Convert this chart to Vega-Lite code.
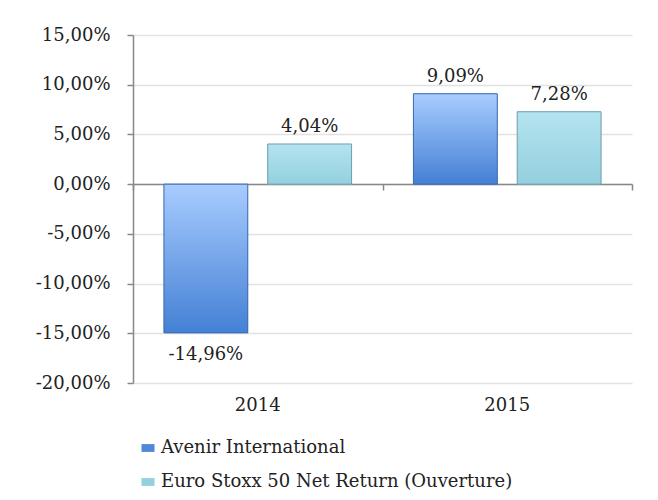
{
  "$schema": "https://vega.github.io/schema/vega-lite/v6.json",
  "autosize": {"type": "none"},
  "padding": {"left": 133, "top": 35, "right": 26, "bottom": 117},
  "width": 499,
  "height": 348,
  "background": "white",
  "config": {
    "font": "DejaVu Serif",
    "view": {"stroke": null},
    "locale": {"number": {"decimal": ",", "thousands": " ", "grouping": [3], "currency": ["", " €"], "minus": "-"}},
    "axis": {"labelFont": "DejaVu Serif", "labelColor": "#222", "labelFontSize": 18, "titleFont": "DejaVu Serif"},
    "legend": {"labelFont": "DejaVu Serif"}
  },
  "data": {
    "values": [
      {"year": "2014", "series": "Avenir International", "value": -0.1496},
      {"year": "2014", "series": "Euro Stoxx 50 Net Return (Ouverture)", "value": 0.0404},
      {"year": "2015", "series": "Avenir International", "value": 0.0909},
      {"year": "2015", "series": "Euro Stoxx 50 Net Return (Ouverture)", "value": 0.0728}
    ]
  },
  "encoding": {
    "x": {"field": "year", "type": "nominal", "scale": {"paddingInner": 0, "paddingOuter": 0}},
    "xOffset": {"field": "series", "type": "nominal", "scale": {"paddingInner": 0.192, "paddingOuter": 0.298, "domain": ["Avenir International", "Euro Stoxx 50 Net Return (Ouverture)"]}},
    "y": {"field": "value", "type": "quantitative", "scale": {"domain": [-0.2, 0.15], "nice": false, "zero": false}}
  },
  "layer": [
    {
      "mark": {"type": "bar"},
      "encoding": {
        "x": {"field": "year", "type": "nominal", "title": null,
          "axis": {"orient": "bottom", "domain": false, "ticks": false, "labelAngle": 0, "labelPadding": 13, "labelFontSize": 18, "grid": false}},
        "y": {"field": "value", "type": "quantitative", "title": null,
          "axis": {"values": [-0.2, -0.15, -0.1, -0.05, 0, 0.05, 0.1, 0.15], "format": ".2%", "domainColor": "#888", "domainWidth": 1.5, "tickColor": "#888", "tickSize": 6, "tickWidth": 1.5, "labelPadding": 17, "gridColor": "#e2e2e2", "gridWidth": 1.5}},
        "color": {"field": "series", "type": "nominal", "title": null,
          "scale": {"domain": ["Avenir International", "Euro Stoxx 50 Net Return (Ouverture)"], "range": ["#4f88d6", "#93cfdd"]},
          "legend": {"orient": "none", "legendX": 6, "legendY": 404, "direction": "vertical", "labelFontSize": 18, "labelLimit": 600, "labelColor": "#222", "rowPadding": 16, "labelOffset": 4, "symbolType": "M-1,-0.6H1V0.6H-1Z", "symbolSize": 169, "symbolStrokeWidth": 0}}
      }
    },
    {
      "transform": [{"filter": "datum.series === 'Avenir International'"}],
      "mark": {"type": "bar", "stroke": "#3a6bb0", "strokeWidth": 1,
        "fill": {"gradient": "linear", "x1": 0, "y1": 0, "x2": 0, "y2": 1, "stops": [{"offset": 0, "color": "#a8ccff"}, {"offset": 1, "color": "#4480d4"}]}},
      "encoding": {"x": {"field": "year", "type": "nominal", "axis": null}}
    },
    {
      "transform": [{"filter": "datum.series !== 'Avenir International'"}],
      "mark": {"type": "bar", "stroke": "#6f9fae", "strokeWidth": 1,
        "fill": {"gradient": "linear", "x1": 0, "y1": 0, "x2": 0, "y2": 1, "stops": [{"offset": 0, "color": "#b4e3ef"}, {"offset": 1, "color": "#94d0df"}]}},
      "encoding": {"x": {"field": "year", "type": "nominal", "axis": null}}
    },
    {
      "transform": [{"filter": "datum.value >= 0"}],
      "mark": {"type": "text", "baseline": "alphabetic", "dy": -12, "fontSize": 18, "color": "#222"},
      "encoding": {
        "x": {"field": "year", "type": "nominal", "title": null,
          "axis": {"orient": "bottom", "offset": -199, "labels": false, "domain": true, "domainColor": "#888", "domainWidth": 1.5, "ticks": true, "tickBand": "extent", "tickColor": "#888", "tickWidth": 1.5, "tickSize": 6, "grid": false}},
        "text": {"field": "value", "type": "quantitative", "format": ".2%"}
      }
    },
    {
      "transform": [{"filter": "datum.value < 0"}],
      "mark": {"type": "text", "baseline": "top", "dy": 13, "fontSize": 18, "color": "#222"},
      "encoding": {
        "x": {"field": "year", "type": "nominal", "axis": null},
        "text": {"field": "value", "type": "quantitative", "format": ".2%"}
      }
    }
  ],
  "resolve": {"axis": {"x": "independent"}}
}
